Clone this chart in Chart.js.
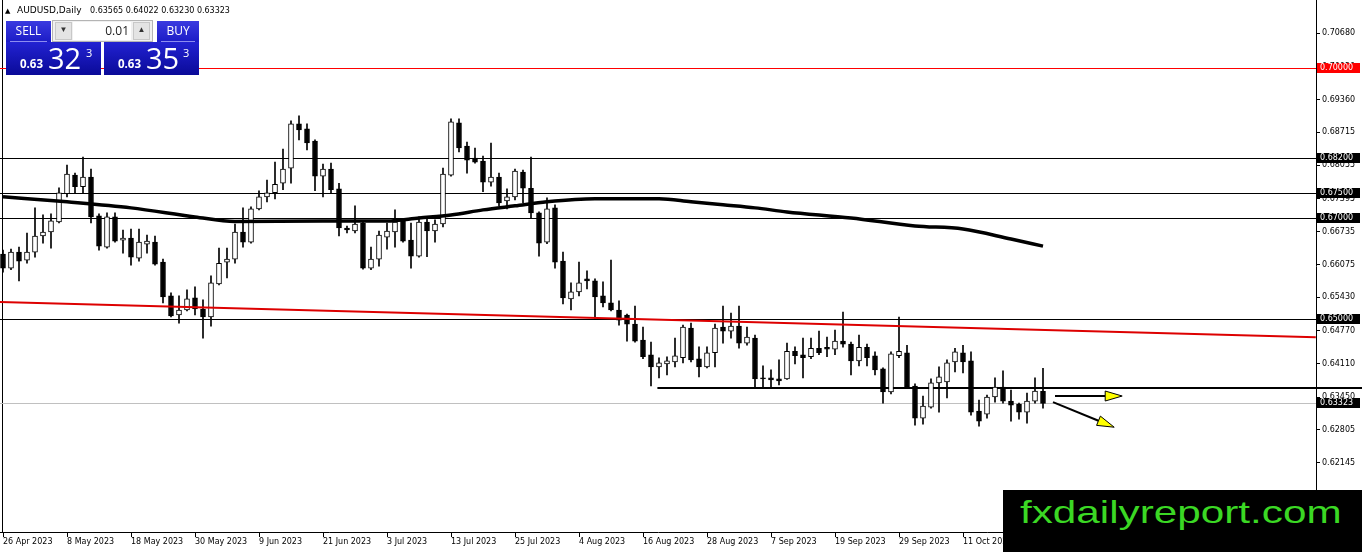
<!DOCTYPE html>
<html>
<head>
<meta charset="utf-8">
<script src="https://cdn.jsdelivr.net/npm/chart.js@4.4.1/dist/chart.umd.min.js"></script>
<style>
  body { margin: 0; background: #fff; overflow: hidden; }
  #wrap { position: relative; width: 1362px; height: 552px; }
  canvas { position: absolute; left: 0; top: 0; }
  .abs { position: absolute; }
  #tri { left: 5px; top: 7px; font: 7px "DejaVu Sans", sans-serif; }
  #sym { left: 17px; top: 5px; font: 9px "DejaVu Sans", sans-serif; }
  #ohlc { left: 90px; top: 6px; font: 8px "DejaVu Sans", sans-serif; }
  .hdr { top: 21px; height: 21px; background: linear-gradient(#3a3ae0, #1c1cc6); color: #fff;
         font: 12px "Open Sans", sans-serif; text-align: center; line-height: 20px; }
  .hdr i { position: absolute; left: 4px; right: 4px; bottom: 0; height: 1px; background: #8c8cf0; }
  .box { top: 42px; width: 95px; height: 33px; background: linear-gradient(#2222d2, #0a0a98); color: #fff;
         font-family: "Open Sans", sans-serif; }
  .box span { position: absolute; line-height: 1; }
  .sm { font-size: 11.5px; font-weight: bold; top: 16px; }
  .big { font-size: 29px; top: 1px; }
  .sup { font-size: 11px; top: 5px; }
  #lot { left: 52px; top: 20px; width: 101px; height: 22px; background: #f0f0f0; border: 1px solid #b4b4b4; box-sizing: border-box; }
  #lot div { position: absolute; top: 1px; height: 18px; line-height: 18px; font: 12px "Open Sans", sans-serif; }
  .ar { width: 17px; background: #e4e4e4; border: 1px solid #c8c8c8; box-sizing: border-box; text-align: center; font-size: 8px !important; color: #333; }
  #wm { left: 1003px; top: 490px; width: 359px; height: 62px; background: #000; overflow: hidden; }
  #wm span { position: absolute; left: 17px; top: 4px; font: 32px "Liberation Sans", Arial, sans-serif; color: #3bd824;
             transform: scaleX(1.32); transform-origin: left top; white-space: nowrap; }
</style>
</head>
<body>
<div id="wrap">
  <canvas id="chart" width="1362" height="552"></canvas>
  <div id="tri" class="abs">▲</div>
  <div id="sym" class="abs">AUDUSD,Daily</div>
  <div id="ohlc" class="abs">0.63565 0.64022 0.63230 0.63323</div>
  <div class="abs hdr" style="left:6px;width:45px">SELL<i></i></div>
  <div id="lot" class="abs">
    <div class="ar" style="left:2px">▼</div>
    <div style="left:20px;width:56px;background:#fff;text-align:right;color:#222;padding-right:2px">0.01</div>
    <div class="ar" style="left:80px">▲</div>
  </div>
  <div class="abs hdr" style="left:157px;width:42px">BUY<i></i></div>
  <div class="abs box" style="left:6px"><span class="sm" style="left:14px">0.63</span><span class="big" style="left:42px">32</span><span class="sup" style="left:80px">3</span></div>
  <div class="abs box" style="left:104px"><span class="sm" style="left:14px">0.63</span><span class="big" style="left:42px">35</span><span class="sup" style="left:79px">3</span></div>
  <div id="wm" class="abs"><span>fxdailyreport.com</span></div>
</div>
<script>
// AUDUSD daily candles, 26 Apr 2023 .. 25 Oct 2023 (one per weekday)
const opens = [
  0.6629,0.6601,0.6633,0.6617,0.6633,0.6665,0.6673,0.6693,0.6749,0.6786,
  0.6763,0.6782,0.6705,0.6643,0.6703,0.6657,0.6661,0.6621,0.6649,0.6653,
  0.6613,0.6546,0.6508,0.6518,0.6542,0.6520,0.6504,0.6570,0.6613,0.6619,
  0.6673,0.6653,0.6719,0.6743,0.6751,0.6770,0.6800,0.6888,0.6878,0.6854,
  0.6784,0.6798,0.6759,0.6681,0.6675,0.6691,0.6601,0.6619,0.6663,0.6673,
  0.6695,0.6657,0.6625,0.6693,0.6675,0.6689,0.6786,0.6890,0.6844,0.6820,
  0.6814,0.6772,0.6782,0.6735,0.6743,0.6792,0.6760,0.6711,0.6653,0.6721,
  0.6615,0.6540,0.6554,0.6580,0.6576,0.6546,0.6532,0.6518,0.6508,0.6490,
  0.6458,0.6429,0.6405,0.6411,0.6415,0.6423,0.6482,0.6421,0.6405,0.6433,
  0.6484,0.6476,0.6486,0.6452,0.6462,0.6383,0.6383,0.6381,0.6381,0.6436,
  0.6429,0.6425,0.6442,0.6444,0.6440,0.6456,0.6450,0.6417,0.6444,0.6427,
  0.6401,0.6355,0.6427,0.6433,0.6367,0.6303,0.6325,0.6373,0.6375,0.6415,
  0.6433,0.6417,0.6317,0.6311,0.6345,0.6365,0.6337,0.6331,0.6315,0.6337,
  0.63565
];
const highs = [
  0.6637,0.6639,0.6643,0.6671,0.6721,0.6707,0.6709,0.6761,0.6806,0.6790,
  0.6822,0.6798,0.6709,0.6711,0.6711,0.6677,0.6679,0.6679,0.6667,0.6665,
  0.6619,0.6552,0.6546,0.6558,0.6564,0.6538,0.6586,0.6641,0.6641,0.6689,
  0.6721,0.6723,0.6755,0.6776,0.6812,0.6838,0.6894,0.6904,0.6888,0.6856,
  0.6808,0.6810,0.6770,0.6685,0.6725,0.6693,0.6643,0.6675,0.6691,0.6717,
  0.6697,0.6691,0.6703,0.6703,0.6697,0.6800,0.6898,0.6898,0.6852,0.6840,
  0.6824,0.6850,0.6790,0.6759,0.6798,0.6796,0.6822,0.6713,0.6741,0.6727,
  0.6633,0.6572,0.6613,0.6596,0.6580,0.6574,0.6617,0.6536,0.6510,0.6526,
  0.6484,0.6454,0.6423,0.6425,0.6462,0.6488,0.6492,0.6445,0.6445,0.6490,
  0.6526,0.6512,0.6526,0.6484,0.6468,0.6407,0.6399,0.6419,0.6452,0.6445,
  0.6462,0.6462,0.6476,0.6464,0.6478,0.6514,0.6454,0.6468,0.6450,0.6435,
  0.6403,0.6435,0.6504,0.6448,0.6371,0.6347,0.6381,0.6405,0.6419,0.6442,
  0.6448,0.6435,0.6339,0.6349,0.6383,0.6397,0.6359,0.6333,0.6353,0.6383,
  0.64022
];
const lows = [
  0.6593,0.6598,0.6576,0.6611,0.6623,0.6651,0.6641,0.6691,0.6743,0.6751,
  0.6749,0.6691,0.6637,0.6641,0.6653,0.6631,0.6607,0.6615,0.6631,0.6607,
  0.6532,0.6504,0.6492,0.6516,0.6508,0.6462,0.6486,0.6568,0.6582,0.6611,
  0.6643,0.6651,0.6717,0.6733,0.6739,0.6757,0.6770,0.6856,0.6836,0.6755,
  0.6743,0.6749,0.6665,0.6671,0.6671,0.6599,0.6598,0.6605,0.6639,0.6643,
  0.6653,0.6601,0.6623,0.6624,0.6653,0.6683,0.6784,0.6832,0.6790,0.6810,
  0.6753,0.6764,0.6725,0.6719,0.6737,0.6731,0.6701,0.6625,0.6650,0.6601,
  0.6530,0.6518,0.6546,0.6560,0.6500,0.6524,0.6516,0.6488,0.6456,0.6454,
  0.6421,0.6367,0.6383,0.6389,0.6405,0.6413,0.6415,0.6385,0.6403,0.6405,
  0.6452,0.6462,0.6442,0.6448,0.6363,0.6363,0.6365,0.6369,0.6380,0.6411,
  0.6383,0.6421,0.6429,0.6425,0.6429,0.6444,0.6389,0.6407,0.6407,0.6389,
  0.6333,0.6351,0.6423,0.6363,0.6289,0.6291,0.6323,0.6315,0.6343,0.6395,
  0.6393,0.6309,0.6287,0.6303,0.6335,0.6333,0.6297,0.6301,0.6293,0.6333,
  0.63230
];
const closes = [
  0.6601,0.6633,0.6615,0.6633,0.6665,0.6673,0.6695,0.6751,0.6788,0.6763,
  0.6782,0.6703,0.6645,0.6703,0.6655,0.6661,0.6623,0.6653,0.6655,0.6609,
  0.6544,0.6506,0.6518,0.6540,0.6520,0.6504,0.6572,0.6611,0.6619,0.6673,
  0.6653,0.6719,0.6743,0.6751,0.6768,0.6798,0.6888,0.6876,0.6850,0.6784,
  0.6798,0.6757,0.6681,0.6677,0.6689,0.6601,0.6619,0.6667,0.6675,0.6693,
  0.6655,0.6625,0.6693,0.6675,0.6689,0.6788,0.6892,0.6840,0.6816,0.6812,
  0.6772,0.6782,0.6731,0.6743,0.6794,0.6760,0.6711,0.6651,0.6719,0.6613,
  0.6542,0.6554,0.6572,0.6576,0.6544,0.6532,0.6518,0.6498,0.6490,0.6456,
  0.6425,0.6405,0.6413,0.6417,0.6427,0.6484,0.6419,0.6405,0.6433,0.6482,
  0.6476,0.6486,0.6452,0.6464,0.6381,0.6381,0.6379,0.6377,0.6436,0.6427,
  0.6423,0.6442,0.6433,0.6440,0.6456,0.6450,0.6417,0.6444,0.6423,0.6399,
  0.6355,0.6431,0.6436,0.6365,0.6303,0.6327,0.6373,0.6385,0.6413,0.6435,
  0.6415,0.6315,0.6297,0.6345,0.6365,0.6337,0.6329,0.6315,0.6337,0.6357,
  0.63323
];

// moving average (read at a few bars)
const maBars = [0, 8, 16, 24, 29, 40, 48, 52, 56, 60, 64, 68, 74, 82, 86, 90, 94, 98, 106, 114, 120, 126, 130];
const maVals = [0.6743, 0.6733, 0.6721, 0.6703, 0.6694, 0.6695, 0.6695, 0.6701, 0.6707, 0.6717, 0.6725, 0.6733,
                0.6739, 0.6739, 0.6733, 0.6727, 0.6721, 0.6713, 0.6701, 0.6685, 0.6679, 0.6659, 0.6645];

// red trend line
const trendBars = [-0.4, 164.1];
const trendVals = [0.6534, 0.6464];

// horizontal levels
const levels = [0.70000, 0.68200, 0.67500, 0.67000, 0.65000];
const levelColors = ['#ff0000', '#000', '#000', '#000', '#000'];
const bidPrice = 0.63323;
const supportPrice = 0.6363;
const supportFrom = 81.8;

// arrows [bar, price]
const arrowStart = [[131.5, 0.6347], [131.25, 0.6335]];
const arrowEnd = [[139.9, 0.6347], [138.9, 0.6285]];

// axes
const priceTicks = [0.70680, 0.70020, 0.69360, 0.68715, 0.68055, 0.67395, 0.66735, 0.66075,
                    0.65430, 0.64770, 0.64110, 0.63450, 0.62805, 0.62145];
const dateTickBars = [0, 8, 16, 24, 32, 40, 48, 56, 64, 72, 80, 88, 96, 104, 112, 120, 128];
const dateTicks = ['26 Apr 2023', '8 May 2023', '18 May 2023', '30 May 2023', '9 Jun 2023', '21 Jun 2023',
                   '3 Jul 2023', '13 Jul 2023', '25 Jul 2023', '4 Aug 2023', '16 Aug 2023', '28 Aug 2023',
                   '7 Sep 2023', '19 Sep 2023', '29 Sep 2023', '11 Oct 2023', '23 Oct 2023'];

Chart.defaults.font.family = '"DejaVu Sans", sans-serif';
Chart.defaults.font.size = 8;
Chart.defaults.color = '#000';

function drawArrow(ctx, x1, y1, x2, y2) {
  const a = Math.atan2(y2 - y1, x2 - x1), L = 17, W = 5;
  const bx = x2 - L * Math.cos(a), by = y2 - L * Math.sin(a);
  ctx.strokeStyle = '#000';
  ctx.lineWidth = 2;
  ctx.beginPath(); ctx.moveTo(x1, y1); ctx.lineTo(bx, by); ctx.stroke();
  ctx.beginPath();
  ctx.moveTo(x2, y2);
  ctx.lineTo(bx - W * Math.sin(a), by + W * Math.cos(a));
  ctx.lineTo(bx + W * Math.sin(a), by - W * Math.cos(a));
  ctx.closePath();
  ctx.fillStyle = '#ffff00';
  ctx.fill();
  ctx.lineWidth = 1;
  ctx.stroke();
}

function priceBox(ctx, py, text, bg) {
  ctx.fillStyle = bg;
  ctx.fillRect(1317, py - 5, 43, 10);
  ctx.fillStyle = '#fff';
  ctx.font = '8px "DejaVu Sans", sans-serif';
  ctx.textBaseline = 'middle';
  ctx.textAlign = 'left';
  ctx.fillText(text, 1320, py);
}

const mtObjects = {
  id: 'mtObjects',
  beforeDatasetsDraw(chart) {
    const {ctx, chartArea: a, scales: {x, y}} = chart;
    ctx.save();
    ctx.lineWidth = 1;
    // frame
    ctx.strokeStyle = '#000';
    ctx.beginPath(); ctx.moveTo(2.5, 0); ctx.lineTo(2.5, a.bottom); ctx.stroke();
    // levels
    levels.forEach((v, k) => {
      const py = Math.round(y.getPixelForValue(v)) + 0.5;
      ctx.strokeStyle = levelColors[k];
      ctx.beginPath(); ctx.moveTo(a.left, py); ctx.lineTo(a.right, py); ctx.stroke();
    });
    // bid line
    const by = Math.round(y.getPixelForValue(bidPrice)) + 0.5;
    ctx.strokeStyle = '#c0c0c0';
    ctx.beginPath(); ctx.moveTo(a.left, by); ctx.lineTo(a.right, by); ctx.stroke();
    // support line, runs across the price scale
    const sy = Math.round(y.getPixelForValue(supportPrice));
    ctx.strokeStyle = '#000';
    ctx.lineWidth = 2;
    ctx.beginPath(); ctx.moveTo(x.getPixelForValue(supportFrom), sy); ctx.lineTo(chart.width, sy); ctx.stroke();
    // price scale labels
    levels.forEach((v, k) => priceBox(ctx, Math.round(y.getPixelForValue(v)), v.toFixed(5), k === 0 ? '#ff0000' : '#000'));
    priceBox(ctx, Math.round(y.getPixelForValue(bidPrice)), bidPrice.toFixed(5), '#000');
    ctx.restore();
  },
  afterDatasetsDraw(chart) {
    const {ctx, scales: {x, y}} = chart;
    ctx.save();
    arrowStart.forEach((s, k) => {
      const e = arrowEnd[k];
      drawArrow(ctx, x.getPixelForValue(s[0]), y.getPixelForValue(s[1]),
                x.getPixelForValue(e[0]), y.getPixelForValue(e[1]));
    });
    ctx.restore();
  }
};

new Chart(document.getElementById('chart'), {
  type: 'bar',
  data: {
    datasets: [
      {
        type: 'line',
        data: trendBars.map((b, i) => ({x: b, y: trendVals[i]})),
        borderColor: '#dd0000',
        borderWidth: 2,
        pointRadius: 0,
        order: 1
      },
      {
        type: 'line',
        data: maBars.map((b, i) => ({x: b, y: maVals[i]})),
        borderColor: '#000',
        borderWidth: 3.5,
        pointRadius: 0,
        cubicInterpolationMode: 'monotone',
        order: 0
      },
      {
        data: lows.map((l, i) => ({x: i, y: [l, highs[i]]})),
        backgroundColor: '#000',
        barThickness: 1,
        grouped: false,
        order: 3
      },
      {
        data: opens.map((o, i) => ({x: i, y: [o, closes[i]]})),
        backgroundColor: opens.map((o, i) => closes[i] >= o ? '#fff' : '#000'),
        borderColor: '#000',
        borderWidth: 1,
        borderSkipped: false,
        barThickness: 5,
        grouped: false,
        order: 2
      }
    ]
  },
  options: {
    responsive: false,
    animation: false,
    layout: {padding: 0},
    plugins: {legend: {display: false}, tooltip: {enabled: false}},
    scales: {
      x: {
        type: 'linear',
        min: -0.375,
        max: 164.125,
        bounds: 'data',
        offset: false,
        afterBuildTicks: s => { s.ticks = dateTickBars.map(v => ({value: v})); },
        afterFit: s => { s.height = 20; s.paddingLeft = 0; s.paddingRight = 0; },
        grid: {offset: false, drawOnChartArea: false, drawTicks: true, tickLength: 5, color: '#000'},
        border: {display: true, color: '#000'},
        ticks: {
          autoSkip: false,
          maxRotation: 0,
          align: 'start',
          padding: 0,
          callback: v => dateTicks[dateTickBars.indexOf(v)]
        }
      },
      y: {
        position: 'right',
        min: 0.60767,
        max: 0.71342,
        bounds: 'data',
        afterBuildTicks: s => { s.ticks = priceTicks.map(v => ({value: v})); },
        afterFit: s => { s.width = 46; s.paddingTop = 0; s.paddingBottom = 0; },
        grid: {drawOnChartArea: false, drawTicks: true, tickLength: 4, color: '#000'},
        border: {display: true, color: '#000'},
        ticks: {padding: 2, callback: v => v.toFixed(5)}
      }
    }
  },
  plugins: [mtObjects]
});
</script>
</body>
</html>
